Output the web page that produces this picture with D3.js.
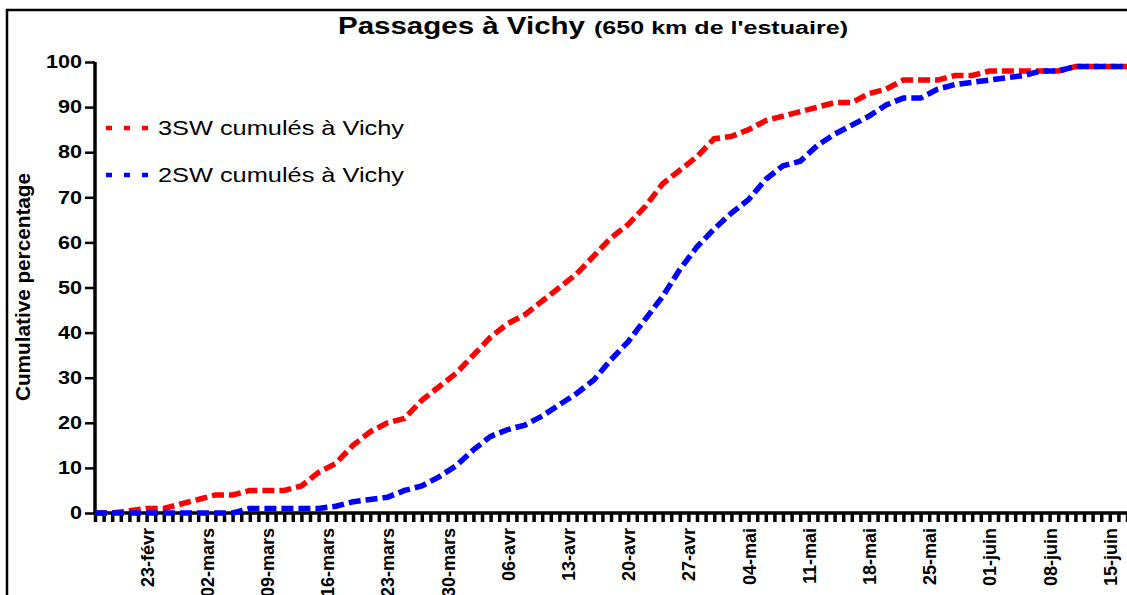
<!DOCTYPE html>
<html lang="fr">
<head>
<meta charset="UTF-8">
<title>Passages à Vichy</title>
<script src="https://d3js.org/d3.v7.min.js"></script>
<style>
  body { margin: 0; background: #fff; }
  svg { display: block; font-family: "Liberation Sans", Arial, sans-serif; }
</style>
</head>
<body>
<svg id="chart" width="1127" height="595"></svg>
<script>
// dates (every 2 days) and cumulative %
var dates = [
  "2015-02-17","2015-02-19","2015-02-21","2015-02-23","2015-02-25","2015-02-27",
  "2015-03-01","2015-03-03","2015-03-05","2015-03-07","2015-03-09","2015-03-11","2015-03-13","2015-03-15",
  "2015-03-17","2015-03-19","2015-03-21","2015-03-23","2015-03-25","2015-03-27","2015-03-29","2015-03-31",
  "2015-04-02","2015-04-04","2015-04-06","2015-04-08","2015-04-10","2015-04-12","2015-04-14","2015-04-16",
  "2015-04-18","2015-04-20","2015-04-22","2015-04-24","2015-04-26","2015-04-28","2015-04-30",
  "2015-05-02","2015-05-04","2015-05-06","2015-05-08","2015-05-10","2015-05-12","2015-05-14","2015-05-16",
  "2015-05-18","2015-05-20","2015-05-22","2015-05-24","2015-05-26","2015-05-28","2015-05-30",
  "2015-06-01","2015-06-03","2015-06-05","2015-06-07","2015-06-09","2015-06-11","2015-06-13","2015-06-15","2015-06-17"
];
var sw3 = [0,0,0.5,1,1,2,3,4,4,5, 5,5,6,9,11,15,18,20,21,25, 28,31,35,39,42,44,47,50,53,57,
  61,64,68,73,76,79,83,83.5,85,87, 88,89,90,91,91,93,94,96,96,96, 97,97,98,98,98,98,98,99,99,99, 99];
var sw2 = [0,0,0,0,0,0,0,0,0,1, 1,1,1,1,1.5,2.5,3,3.5,5,6, 8,10.5,14,17,18.5,19.5,21.5,24,26.5,29.5,
  34,38,43,48,54,59,63,66.5,69.5,74, 77,78,81.5,84,86,88,90.5,92,92,94, 95,95.5,96,96.5,97,98,98,99,99,99, 99];

var tickDates = ["2015-02-23","2015-03-02","2015-03-09","2015-03-16","2015-03-23","2015-03-30","2015-04-06",
  "2015-04-13","2015-04-20","2015-04-27","2015-05-04","2015-05-11","2015-05-18","2015-05-25","2015-06-01",
  "2015-06-08","2015-06-15"];
var tickLabels = ["23-févr","02-mars","09-mars","16-mars","23-mars","30-mars","06-avr","13-avr","20-avr",
  "27-avr","04-mai","11-mai","18-mai","25-mai","01-juin","08-juin","15-juin"];
var yTicks = [0,10,20,30,40,50,60,70,80,90,100];

var parse = d3.timeParse("%Y-%m-%d");
var svg = d3.select("#chart");

// frame
svg.append("rect").attr("x", 7).attr("y", 10).attr("width", 1140).attr("height", 600)
   .attr("fill", "none").attr("stroke", "#000").attr("stroke-width", 2.5);

var x = d3.scaleTime()
    .domain([parse("2015-02-17"), parse("2015-06-18")])
    .range([95, 95 + 121 * 8.6]);
var y = d3.scaleLinear().domain([0, 100]).range([513, 62]);

// title (the original lettering is wide, so stretch to its width)
svg.append("text").attr("x", 338).attr("y", 34).attr("font-weight", "bold")
   .attr("font-size", "23px").attr("textLength", 247).attr("lengthAdjust", "spacingAndGlyphs")
   .text("Passages à Vichy");
svg.append("text").attr("x", 594).attr("y", 34).attr("font-weight", "bold")
   .attr("font-size", "18px").attr("textLength", 254).attr("lengthAdjust", "spacingAndGlyphs")
   .text("(650 km de l'estuaire)");

// y axis
var yAxis = svg.append("g").attr("transform", "translate(95,0)")
   .call(d3.axisLeft(y).tickValues(yTicks).tickSize(10).tickPadding(3));
yAxis.select(".domain").attr("stroke-width", 3.5).attr("d", "M0,62V513");
yAxis.selectAll(".tick line").attr("stroke-width", 2.5);
yAxis.selectAll(".tick text").attr("font-size", "18px").attr("font-weight", "bold")
   .attr("font-family", "Liberation Sans, Arial, sans-serif").attr("fill", "#000")
   .attr("x", -13 / 1.2).attr("transform", "scale(1.2,1)");

svg.append("text").attr("transform", "translate(30,287) rotate(-90)")
   .attr("text-anchor", "middle").attr("font-size", "20px").attr("font-weight", "bold")
   .attr("textLength", 228).attr("lengthAdjust", "spacingAndGlyphs")
   .text("Cumulative percentage");

// x axis: a tick per day, labels weekly
var labelOf = {};
tickDates.forEach(function(d, i) { labelOf[d] = tickLabels[i]; });
var fmt = d3.timeFormat("%Y-%m-%d");
var xAxis = svg.append("g").attr("transform", "translate(0,513)")
   .call(d3.axisBottom(x).ticks(d3.timeDay.every(1)).tickSize(9).tickPadding(4)
     .tickFormat(function(d) { return labelOf[fmt(d)] || ""; }));
xAxis.select(".domain").attr("stroke-width", 3.5).attr("d", "M95,0H1140");
xAxis.selectAll(".tick line").attr("stroke-width", 3.5);
xAxis.selectAll(".tick text")
   .attr("font-size", "18px").attr("font-weight", "bold").attr("fill", "#000")
   .attr("font-family", "Liberation Sans, Arial, sans-serif")
   .attr("text-anchor", "end").attr("dy", "0.36em")
   .attr("transform", "translate(0,15) rotate(-90)").attr("x", 0).attr("y", 0);

// lines
var line = d3.line()
    .x(function(d) { return x(d.date); })
    .y(function(d) { return y(d.v); });
var series = [
  { name: "3SW cumulés à Vichy", color: "#ff0000", values: sw3 },
  { name: "2SW cumulés à Vichy", color: "#0000ff", values: sw2 }
];
series.forEach(function(s) {
  var pts = dates.map(function(d, i) { return { date: parse(d), v: s.values[i] }; });
  svg.append("path").datum(pts).attr("d", line).attr("fill", "none")
     .attr("stroke", s.color).attr("stroke-width", 5.5).attr("stroke-dasharray", "12,5");
});

// legend
series.forEach(function(s, i) {
  var ly = 128 + i * 47;
  svg.append("line").attr("x1", 106).attr("x2", 148).attr("y1", ly).attr("y2", ly)
     .attr("stroke", s.color).attr("stroke-width", 4.5).attr("stroke-dasharray", "6,12");
  svg.append("text").attr("x", 158).attr("y", ly + 7).attr("font-size", "21px")
     .attr("textLength", 246).attr("lengthAdjust", "spacingAndGlyphs").text(s.name);
});
</script>
</body>
</html>
